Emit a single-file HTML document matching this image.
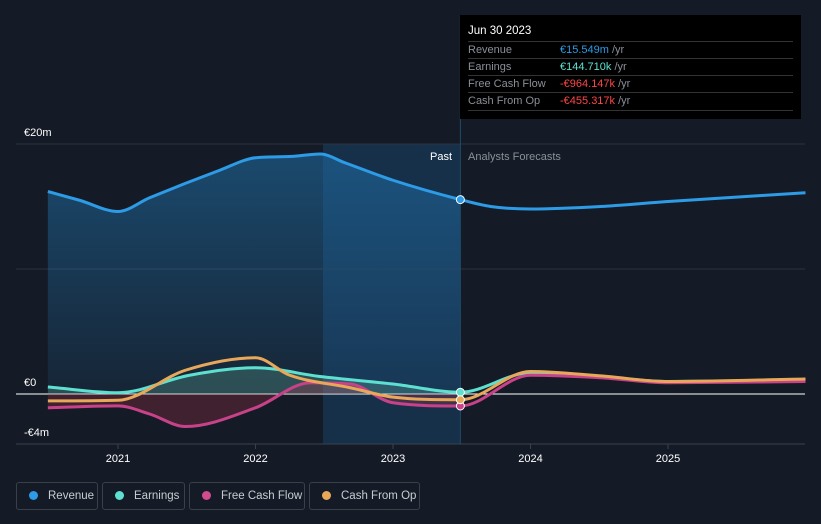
<!DOCTYPE html>
<html><head><meta charset="utf-8"><style>
body{margin:0;background:#151b26;font-family:"Liberation Sans",sans-serif;}
#wrap{position:relative;width:821px;height:524px;overflow:hidden;}
svg text{font-family:"Liberation Sans",sans-serif;}
.tt{position:absolute;left:460px;top:15px;width:341px;height:104px;background:#000;color:#fff;font-size:11px;}
.tt .h{position:absolute;left:8px;top:10px;font-size:11.5px;}
.tt .r{position:absolute;left:8px;width:325px;border-top:1px solid #333;height:17px;line-height:17px;color:#8a8f98;}
.tt .r span{position:absolute;left:92px;}
.leg{position:absolute;top:482px;height:28px;border:1px solid #3a3f48;border-radius:3px;color:#c8ccd2;font-size:11.5px;line-height:27px;box-sizing:border-box;white-space:nowrap;overflow:hidden;}
.leg i{display:inline-block;width:9px;height:9px;border-radius:50%;margin:0 10px 0 12px;vertical-align:-1px;}
</style></head><body><div id="wrap">
<svg id="svg" width="821" height="524">
<defs>
<linearGradient id="gRev" x1="0" y1="0" x2="0" y2="1"><stop offset="0" stop-color="#1f6fa8" stop-opacity="0.55"/><stop offset="1" stop-color="#1f6fa8" stop-opacity="0.12"/></linearGradient>
</defs>
<rect x="323" y="144" width="137" height="300" fill="#17304a"/>
<g id="grid"></g><g id="areas"></g><g id="lines"></g><g id="dots"></g>
<text x="452" y="160" fill="#fff" font-size="11" text-anchor="end">Past</text>
<text x="468" y="160" fill="#8a8f98" font-size="11">Analysts Forecasts</text>
</svg>
<div class="tt">
<div class="h">Jun 30 2023</div>
<div class="r" style="top:26px">Revenue<span><b style="font-weight:normal;color:#2d9be6">€15.549m</b> /yr</span></div>
<div class="r" style="top:43px">Earnings<span><b style="font-weight:normal;color:#5ee0d0">€144.710k</b> /yr</span></div>
<div class="r" style="top:60px">Free Cash Flow<span><b style="font-weight:normal;color:#ff4545">-€964.147k</b> /yr</span></div>
<div class="r" style="top:77px;border-bottom:1px solid #333">Cash From Op<span><b style="font-weight:normal;color:#ff4545">-€455.317k</b> /yr</span></div>
</div>
<div class="leg" style="left:16px;width:82px"><i style="background:#2d9be6"></i>Revenue</div>
<div class="leg" style="left:102px;width:83px"><i style="background:#5ee0d0"></i>Earnings</div>
<div class="leg" style="left:189px;width:116px"><i style="background:#d14b8f"></i>Free Cash Flow</div>
<div class="leg" style="left:309px;width:111px"><i style="background:#e8a85a"></i>Cash From Op</div>
</div>
<script>
const yTicks=[20,10,0,-4];
const yTickLabels=["€20m","","€0","-€4m"];
const xTicks=[2021,2022,2023,2024,2025];
const revT=[2020.49,2020.72,2021,2021.23,2021.74,2022,2022.25,2022.47,2022.65,2023,2023.49,2023.71,2024,2024.51,2025,2026];
const revV=[16.2,15.5,14.6,15.7,17.9,18.9,19.0,19.2,18.5,17.1,15.55,15.0,14.8,15.0,15.4,16.1];
const earnT=[2020.49,2021,2021.52,2022,2022.47,2023,2023.49,2024,2024.51,2025,2026];
const earnV=[0.56,0.1,1.5,2.1,1.4,0.8,0.14,1.7,1.4,1.0,1.1];
const fcfT=[2020.49,2021,2021.23,2021.49,2022,2022.4,2022.69,2023,2023.49,2024,2024.51,2025,2026];
const fcfV=[-1.1,-0.95,-1.6,-2.6,-1.1,0.9,0.8,-0.7,-0.96,1.5,1.3,0.9,1.0];
const cfoT=[2020.49,2021,2021.49,2022,2022.25,2022.69,2023,2023.49,2024,2024.51,2025,2026];
const cfoV=[-0.55,-0.5,1.9,2.9,1.5,0.5,-0.25,-0.46,1.8,1.45,1.0,1.2];
const NOW=2023.49;
const X=t=>118+(t-2021)*137.5, Y=v=>394-v*12.5;
const NS="http://www.w3.org/2000/svg";
function el(tag,attrs,parent){const e=document.createElementNS(NS,tag);for(const k in attrs)e.setAttribute(k,attrs[k]);document.getElementById(parent).appendChild(e);return e;}
function pathD(T,V){const n=T.length,x=T.map(X),y=V.map(Y),d=[],m=[];
for(let i=0;i<n-1;i++)d.push((y[i+1]-y[i])/(x[i+1]-x[i]));
for(let i=0;i<n;i++){if(i===0)m.push(d[0]);else if(i===n-1)m.push(d[n-2]);else m.push(d[i-1]*d[i]<=0?0:(d[i-1]+d[i])/2);}
for(let i=0;i<n-1;i++){if(d[i]===0){m[i]=0;m[i+1]=0;continue;}const a=m[i]/d[i],b=m[i+1]/d[i],s=a*a+b*b;if(s>9){const t=3/Math.sqrt(s);m[i]=t*a*d[i];m[i+1]=t*b*d[i];}}
let p="M"+x[0]+","+y[0];
for(let i=0;i<n-1;i++){const h=(x[i+1]-x[i])/3;p+=" C"+(x[i]+h)+","+(y[i]+m[i]*h)+" "+(x[i+1]-h)+","+(y[i+1]-m[i+1]*h)+" "+x[i+1]+","+y[i+1];}
return p;}
function interp(T,V,t){for(let i=0;i<T.length-1;i++)if(t>=T[i]&&t<=T[i+1])return V[i]+(V[i+1]-V[i])*(t-T[i])/(T[i+1]-T[i]);return V[V.length-1];}
function cut(T,V){const t2=[],v2=[];T.forEach((t,i)=>{if(t<NOW){t2.push(t);v2.push(V[i]);}});t2.push(NOW);v2.push(interp(T,V,NOW));return[t2,v2];}
yTicks.forEach((v,i)=>{
const l=el("line",{x1:16,x2:805,y1:Y(v),y2:Y(v),stroke:v===0?"#ffffff":"#2c3340","stroke-width":1},"grid");

if(yTickLabels[i]){const t=el("text",{x:24,y:Y(v)-8,fill:"#fff","font-size":11},"grid");t.textContent=yTickLabels[i];
}
});
const ax=el("line",{x1:16,x2:805,y1:444,y2:444,stroke:"#3a414d"},"grid");

xTicks.forEach(v=>{const k=el("line",{x1:X(v),x2:X(v),y1:444,y2:449,stroke:"#3a414d"},"grid");

const t=el("text",{x:X(v),y:462,fill:"#fff","font-size":11,"text-anchor":"middle"},"grid");t.textContent=v;
});
function area(T,V,fill,name){const[t2,v2]=cut(T,V);const a=el("path",{d:pathD(t2,v2)+" L"+X(NOW)+","+Y(0)+" L"+X(t2[0])+","+Y(0)+" Z",fill:fill},"areas");
}
area(revT,revV,"url(#gRev)","revenue-area");
area(earnT,earnV,"rgba(110,200,170,0.25)","earnings-area");
area(fcfT,fcfV,"rgba(190,50,80,0.25)","fcf-area");
const series=[[revT,revV,"#2d9be6","revenue-line"],[earnT,earnV,"#5ee0d0","earnings-line"],[fcfT,fcfV,"#c8428a","fcf-line"],[cfoT,cfoV,"#e8a85a","cfo-line"]];
series.forEach(([T,V,c,n])=>{const p=el("path",{d:pathD(T,V),fill:"none",stroke:c,"stroke-width":3},"lines");
});
const nl=el("line",{x1:X(NOW),x2:X(NOW),y1:15,y2:444,stroke:"#1f4a6e","stroke-width":1},"dots");

series.forEach(([T,V,c,n])=>{const d=el("circle",{cx:X(NOW),cy:Y(interp(T,V,NOW)),r:4,fill:c,stroke:"#fff","stroke-width":1},"dots");
});
</script></body></html>
